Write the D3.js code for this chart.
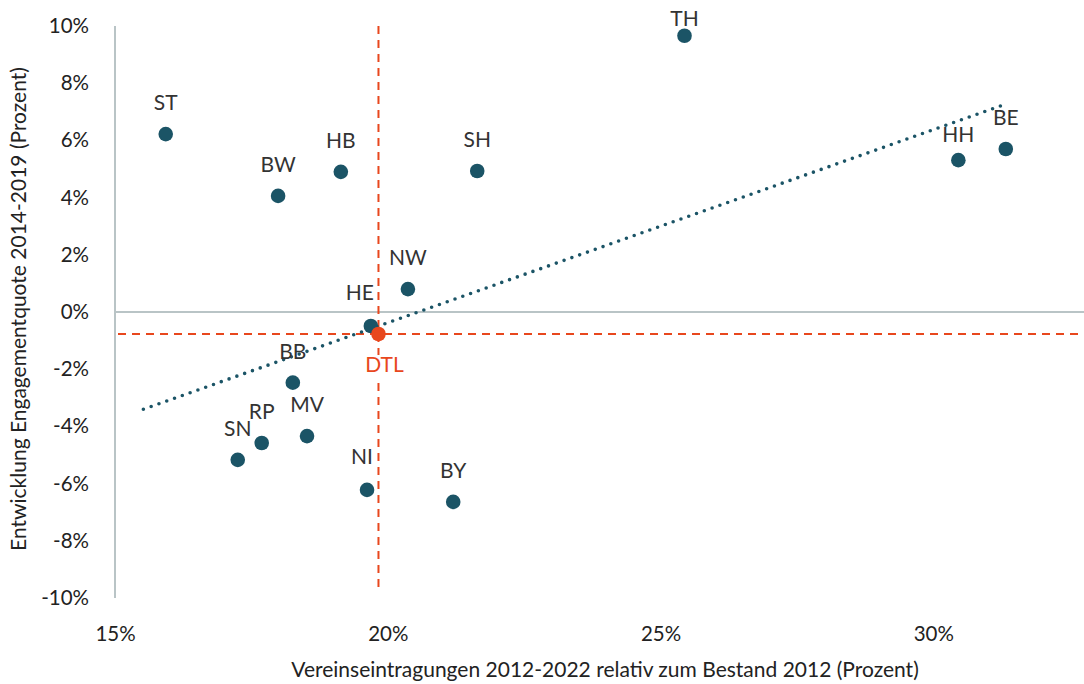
<!DOCTYPE html>
<html><head><meta charset="utf-8">
<script src="https://cdn.jsdelivr.net/npm/d3@7"></script>
<style>
html,body{margin:0;padding:0;background:#fff;}
svg{display:block;font-family:Lato,"Noto Sans",sans-serif;}
</style></head><body>
<svg id="c" width="1084" height="684"></svg>
<script>
// Data
const codes = ["ST","BW","HB","SH","TH","HH","BE","NW","HE","BB","RP","MV","SN","NI","BY"];
const xValues = [15.93,17.99,19.14,21.64,25.44,30.46,31.33,20.37,19.69,18.26,17.69,18.52,17.25,19.62,21.20];
const yValues = [6.22,4.06,4.90,4.93,9.66,5.31,5.70,0.80,-0.49,-2.47,-4.58,-4.34,-5.17,-6.22,-6.64];
const avgLabel = "DTL";
const avgValue = [19.83, -0.77];
const trendX = [15.52, 31.24];
const trendY = [-3.40, 7.21];
const xTicks = [15,20,25,30];
const yTicks = [-10,-8,-6,-4,-2,0,2,4,6,8,10];
const xTitle = "Vereinseintragungen 2012-2022 relativ zum Bestand 2012 (Prozent)";
const yTitle = "Entwicklung Engagementquote 2014-2019 (Prozent)";

// label placement tweaks (styling)
const labelShift = {TH:[0,14], HH:[0,6], HE:[-11,-2], NI:[-5,-2]};

(function(){
const svg = d3.select("#c");
const mLeft = 115, mRight = 1084, mTop = 26, mBottom = 598;
const x = d3.scaleLinear().domain([15, 15 + (mRight-mLeft)/54.55]).range([mLeft, mRight]);
const y = d3.scaleLinear().domain([-10,10]).range([mBottom, mTop]);

const dark = "#1b5466", orange = "#e8471d", grey = "#b9c4c6", txt = "#222";

svg.append("line").attr("x1",x(15)).attr("x2",x(15)).attr("y1",y(10)).attr("y2",y(-10))
  .attr("stroke",grey).attr("stroke-width",2);
svg.append("line").attr("x1",x(15)).attr("x2",mRight).attr("y1",y(0)).attr("y2",y(0))
  .attr("stroke",grey).attr("stroke-width",2);

const yAxis = svg.append("g").attr("transform",`translate(${x(15)},0)`)
  .call(d3.axisLeft(y).tickValues(yTicks).tickSize(0).tickPadding(26).tickFormat(d=>d+"%"));
const xAxis = svg.append("g").attr("transform",`translate(0,${y(-10)})`)
  .call(d3.axisBottom(x).tickValues(xTicks).tickSize(0).tickPadding(28).tickFormat(d=>d+"%"));
[yAxis,xAxis].forEach(a=>{
  a.select(".domain").remove();
  a.selectAll("text").attr("font-size",20.5).attr("fill",txt).attr("font-family","Lato, sans-serif");
});

svg.append("line").attr("x1",x(15)+3).attr("x2",mRight).attr("y1",y(avgValue[1])).attr("y2",y(avgValue[1]))
  .attr("stroke",orange).attr("stroke-width",2).attr("stroke-dasharray","8 6");
svg.append("line").attr("x1",x(avgValue[0])).attr("x2",x(avgValue[0])).attr("y1",y(10)).attr("y2",y(avgValue[1])+21)
  .attr("stroke",orange).attr("stroke-width",2).attr("stroke-dasharray","8 6");
svg.append("line").attr("x1",x(avgValue[0])).attr("x2",x(avgValue[0])).attr("y1",y(avgValue[1])+49).attr("y2",y(-10)-5)
  .attr("stroke",orange).attr("stroke-width",2).attr("stroke-dasharray","8 6");

const tx1 = x(trendX[0]), ty1 = y(trendY[0]), tx2 = x(trendX[1]), ty2 = y(trendY[1]);
const L = Math.hypot(tx2-tx1, ty2-ty1), n = Math.round(L/8.3), gap = L/n - 0.005;
svg.append("line").attr("x1",tx1).attr("y1",ty1).attr("x2",tx2+0.5).attr("y2",ty2-0.18)
  .attr("stroke",dark).attr("stroke-width",3.6).attr("stroke-linecap","round").attr("stroke-dasharray",`0 ${gap}`);

const pts = codes.map((c,i)=>({c, x:xValues[i], y:yValues[i]}));
svg.append("g").selectAll("circle").data(pts).join("circle")
  .attr("cx",d=>x(d.x)).attr("cy",d=>y(d.y)).attr("r",7.3).attr("fill",dark);
svg.append("g").selectAll("text").data(pts).join("text")
  .attr("x",d=>x(d.x)+(labelShift[d.c]?labelShift[d.c][0]:0))
  .attr("y",d=>y(d.y)-24+(labelShift[d.c]?labelShift[d.c][1]:0))
  .attr("text-anchor","middle").attr("font-size",21).attr("fill","#333").text(d=>d.c);

svg.append("circle").attr("cx",x(avgValue[0])).attr("cy",y(avgValue[1])).attr("r",7.3).attr("fill",orange);
svg.append("text").attr("x",x(avgValue[0])+6).attr("y",y(avgValue[1])+38)
  .attr("text-anchor","middle").attr("font-size",21).attr("fill",orange).text(avgLabel);

svg.append("text").attr("x",605).attr("y",677).attr("text-anchor","middle")
  .attr("font-size",21).attr("fill",txt).text(xTitle);
svg.append("text").attr("transform","translate(26,309) rotate(-90)").attr("text-anchor","middle")
  .attr("font-size",21).attr("fill",txt).text(yTitle);
})();
</script></body></html>
